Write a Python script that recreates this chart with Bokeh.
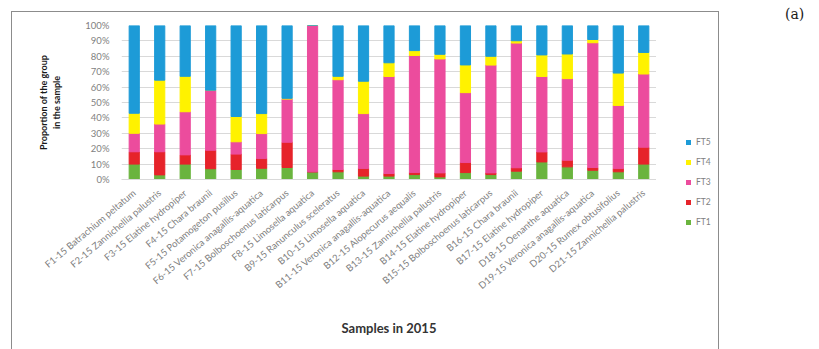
from bokeh.plotting import figure
from bokeh.layouts import row
from bokeh.models import (FactorRange, FixedTicker, PrintfTickFormatter,
                          ColumnDataSource, Div, Row)
from bokeh.embed import file_html
from bokeh.resources import INLINE

samples = [
    "F1-15 Batrachium peltatum", "F2-15 Zannichellia palustris", "F3-15 Elatine hydropiper",
    "F4-15 Chara braunii", "F5-15 Potamogeton pusillus", "F6-15 Veronica anagallis-aquatica",
    "F7-15 Bolboschoenus laticarpus", "F8-15 Limosella aquatica", "B9-15 Ranunculus sceleratus",
    "B10-15 Limosella aquatica", "B11-15 Veronica anagallis-aquatica", "B12-15 Alopecurus aequalis",
    "B13-15 Zannichellia palustris", "B14-15 Elatine hydropiper", "B15-15 Bolboschoenus laticarpus",
    "B16-15 Chara braunii", "B17-15 Elatine hydropiper", "D18-15 Oenanthe aquatica",
    "D19-15 Veronica anagallis-aquatica", "D20-15 Rumex obtusifolius", "D21-15 Zannichellia palustris",
]

# share of each functional type in every sample, percent
ft1 = [10, 3, 10, 7, 6.5, 7.3, 7.8, 5, 5, 2.2, 2.2, 3.2, 1.7, 4.5, 3.2, 5.4, 11.4, 8.2, 6, 5, 10]
ft2 = [8, 15, 6, 12, 10, 6.3, 16.4, 0, 1.5, 5, 1.7, 1.3, 2.6, 6.5, 1.1, 2.2, 6.5, 4.3, 1.8, 2.1, 11]
ft3 = [12, 18, 28, 39, 8, 16.2, 28, 95, 58.3, 35.6, 63, 76, 74, 45.4, 70, 81, 49, 53, 81, 41, 47.5]
ft4 = [13, 28.5, 23, 0, 16.4, 13, 0.5, 0, 2.2, 21, 8.9, 3.2, 3, 18, 5.7, 1.5, 14, 16, 2.1, 21, 14]
ft5 = [57, 35.5, 33, 42, 59.1, 57.2, 47.3, 0, 33, 36.2, 24.2, 16.3, 18.7, 25.6, 20, 9.9, 19.1, 18.5, 9.1, 30.9, 17.5]

series = ["FT1", "FT2", "FT3", "FT4", "FT5"]
colors = ["#6AB43E", "#E6232A", "#EC4C9D", "#FFF200", "#1D9BD7"]

source = ColumnDataSource(dict(sample=samples, FT1=ft1, FT2=ft2, FT3=ft3, FT4=ft4, FT5=ft5))

p = figure(x_range=FactorRange(*samples), y_range=(0, 100),
           width=644, height=345, output_backend="svg", toolbar_location=None,
           min_border_left=109, min_border_right=0, min_border_top=13, min_border_bottom=178)
p.outline_line_color = None
p.background_fill_color = "white"
p.border_fill_color = "white"

p.vbar_stack(series, x="sample", width=0.4, color=colors, source=source)

# axes
p.yaxis.ticker = FixedTicker(ticks=list(range(0, 101, 10)))
p.yaxis.formatter = PrintfTickFormatter(format="%d%%")
p.yaxis.axis_line_color = None
p.yaxis.major_tick_line_color = None
p.yaxis.minor_tick_line_color = None
p.yaxis.major_label_text_font = "Lato"
p.yaxis.major_label_text_font_size = "9.5px"
p.yaxis.major_label_text_color = "#7f7f7f"
p.yaxis.major_label_standoff = 6
p.yaxis.axis_label = "Proportion of the group\nin the sample"
p.yaxis.axis_label_text_font = "Lato"
p.yaxis.axis_label_text_font_style = "bold"
p.yaxis.axis_label_text_font_size = "9px"
p.yaxis.axis_label_text_color = "#1a1a1a"
p.yaxis.axis_label_standoff = 20

p.xaxis.axis_line_color = "#D9D9D9"
p.xaxis.major_tick_line_color = None
p.xaxis.minor_tick_line_color = None
p.xaxis.major_label_orientation = 0.70
p.xaxis.major_label_text_font = "Lato"
p.xaxis.major_label_text_font_size = "9.5px"
p.xaxis.major_label_text_color = "#7f7f7f"
p.xaxis.major_label_standoff = 6
p.xaxis.axis_label = "Samples in 2015"
p.xaxis.axis_label_text_font = "Lato"
p.xaxis.axis_label_text_font_style = "bold"
p.xaxis.axis_label_text_font_size = "13px"
p.xaxis.axis_label_text_color = "#333333"
p.xaxis.axis_label_standoff = 22

p.xgrid.grid_line_color = None
p.ygrid.grid_line_color = "#D9D9D9"

# key to the right of the bars; top entry is the top of the stack
entries = "".join(
    f'<div style="height:20px;line-height:20px;white-space:nowrap">'
    f'<span style="display:inline-block;width:5px;height:5px;background:{c};'
    f'margin-right:5px;vertical-align:middle"></span>{s}</div>'
    for s, c in reversed(list(zip(series, colors)))
)
key = Div(text=entries, width=32, height=345, margin=(120, 0, 0, 30),
          styles={"font-family": "Lato", "font-size": "8.5px", "color": "#7f7f7f"})

# grey chart border (its bottom edge falls below the page)
chart = Row(children=[p, key], spacing=0, margin=(11, 0, 0, 11),
            styles={"border": "1px solid #8c8c8c"})

tag = Div(text="(a)", margin=(4, 0, 0, 66),
          styles={"font-family": "DejaVu Serif", "font-size": "14px", "color": "#1a1a1a"})

layout = row(chart, tag)
open("out.html", "w").write(file_html(layout, INLINE))
